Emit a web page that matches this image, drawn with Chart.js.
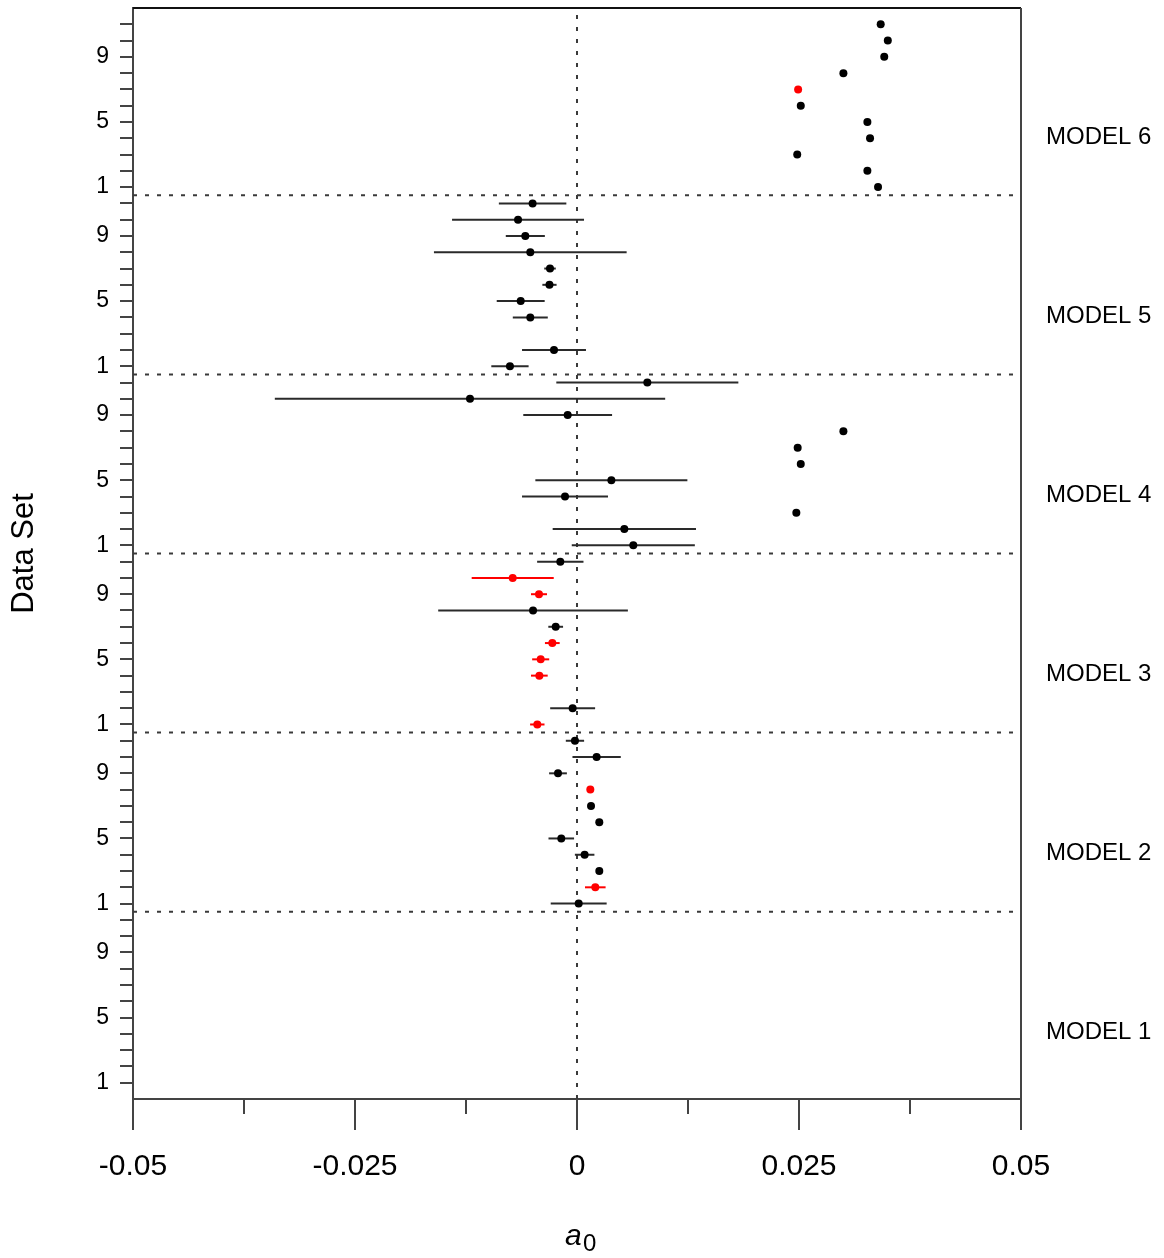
<!DOCTYPE html>
<html>
<head>
<meta charset="utf-8">
<title>a0 by data set and model</title>
<script src="https://cdn.jsdelivr.net/npm/chart.js@4.4.1/dist/chart.umd.min.js"></script>
<style>
  html, body { margin: 0; padding: 0; background: #fff; }
  #wrap { width: 1164px; height: 1258px; overflow: hidden; }
</style>
</head>
<body>
<div id="wrap"><canvas id="chart" width="1164" height="1258"></canvas></div>
<script>
// data sets 1..11 inside each model, models stacked from bottom (1) to top (6)
const dataSetsPerModel = 11;
const modelNames = ["MODEL 1", "MODEL 2", "MODEL 3", "MODEL 4", "MODEL 5", "MODEL 6"];
const xTickLabels = [-0.05, -0.025, 0, 0.025, 0.05];
const xMinorTicks = [-0.0375, -0.0125, 0.0125, 0.0375];
const yLabelled = [1, 5, 9];

// estimates of a0 for data set 1..11 (null = not fitted)
const model1Est = [null, null, null, null, null, null, null, null, null, null, null];
const model2Est = [0.00019, 0.00206, 0.00251, 0.00086, -0.00177, 0.00251, 0.00158, 0.00150, -0.00214, 0.00221, -0.00023];
const model3Est = [-0.00447, -0.00049, null, -0.00424, -0.00409, -0.00278, -0.00240, -0.00495, -0.00428, -0.00724, -0.00188];
const model4Est = [0.00634, 0.00533, 0.0247, -0.00135, 0.00387, 0.0252, 0.02485, 0.0300, -0.00105, -0.01205, 0.00792];
const model5Est = [-0.00755, -0.00259, null, -0.00526, -0.00634, -0.0031, -0.00304, -0.00526, -0.00582, -0.00664, -0.0050];
const model6Est = [0.0339, 0.0327, 0.0248, 0.0330, 0.0327, 0.0252, 0.0249, 0.0300, 0.0346, 0.0350, 0.0342];

// half widths of the error bars (null = no bar)
const model1Err = [null, null, null, null, null, null, null, null, null, null, null];
const model2Err = [0.00315, 0.00116, null, 0.0011, 0.00144, null, null, null, 0.0010, 0.00272, 0.00103];
const model3Err = [0.00081, 0.00253, null, 0.00094, 0.00096, 0.00083, 0.00083, 0.01068, 0.0009, 0.00462, 0.00261];
const model4Err = [0.00693, 0.00807, null, 0.00484, 0.00856, null, null, null, 0.0050, 0.02198, 0.01025];
const model5Err = [0.0021, 0.0036, null, 0.00197, 0.0027, 0.0008, 0.00065, 0.01085, 0.0022, 0.00743, 0.0038];
const model6Err = [null, null, null, null, null, null, null, null, null, null, null];

// data sets drawn in red
const model1Red = [];
const model2Red = [2, 8];
const model3Red = [1, 4, 5, 6, 9, 10];
const model4Red = [];
const model5Red = [];
const model6Red = [7];

const estimates = [model1Est, model2Est, model3Est, model4Est, model5Est, model6Est];
const errors = [model1Err, model2Err, model3Err, model4Err, model5Err, model6Err];
const reds = [model1Red, model2Red, model3Red, model4Red, model5Red, model6Red];

const RED = "#ff0000";
const BLACK = "#000000";
const rowOf = (m, d) => m * dataSetsPerModel + d;
const totalRows = modelNames.length * dataSetsPerModel;

const blackPts = [];
const redPts = [];
const barSets = [];
estimates.forEach((est, m) => {
  est.forEach((v, i) => {
    if (v === null) return;
    const d = i + 1;
    const y = rowOf(m, d);
    const isRed = reds[m].includes(d);
    (isRed ? redPts : blackPts).push({ x: v, y: y });
    const e = errors[m][i];
    if (e !== null) {
      barSets.push({
        data: [{ x: v - e, y: y }, { x: v + e, y: y }],
        showLine: true,
        borderColor: isRed ? RED : "#2a2a2a",
        borderWidth: 2,
        pointRadius: 0,
        order: 2,
      });
    }
  });
});

const dashed = {
  showLine: true,
  borderColor: "#3a3a3a",
  borderWidth: 2,
  borderDash: [4, 8],
  pointRadius: 0,
  order: 3,
};
const separatorSets = modelNames.slice(1).map((_, k) => {
  const y = (k + 1) * dataSetsPerModel + 0.5;
  return Object.assign({}, dashed, { data: [{ x: -0.05, y: y }, { x: 0.05, y: y }] });
});
const zeroLine = Object.assign({}, dashed, { data: [{ x: 0, y: 0 }, { x: 0, y: totalRows + 1 }] });

Chart.defaults.font.family = "'Liberation Sans', Arial, sans-serif";
Chart.defaults.color = "#000";

const framePlugin = {
  id: "frame",
  afterDraw(chart) {
    const { ctx, chartArea: a, scales } = chart;
    const xs = scales.x;
    const ys = scales.y;
    ctx.save();
    // top and right edges of the box
    ctx.strokeStyle = "#111";
    ctx.lineWidth = 2;
    ctx.beginPath();
    ctx.moveTo(a.left, a.top);
    ctx.lineTo(a.right, a.top);
    ctx.stroke();
    ctx.strokeStyle = "#444";
    ctx.beginPath();
    ctx.moveTo(a.right, a.top);
    ctx.lineTo(a.right, a.bottom + 31);
    ctx.stroke();
    // minor ticks on the x axis
    xMinorTicks.forEach((v) => {
      const px = Math.round(xs.getPixelForValue(v));
      ctx.beginPath();
      ctx.moveTo(px, a.bottom);
      ctx.lineTo(px, a.bottom + 15);
      ctx.stroke();
    });
    // model names on the right
    ctx.fillStyle = "#000";
    ctx.font = "24px 'Liberation Sans', Arial, sans-serif";
    ctx.textAlign = "left";
    ctx.textBaseline = "middle";
    modelNames.forEach((name, m) => {
      ctx.fillText(name, a.right + 25, ys.getPixelForValue(rowOf(m, 4)) - 1);
    });
    // axis title a0
    const cx = xs.getPixelForValue(0);
    ctx.textBaseline = "alphabetic";
    ctx.font = "italic 30px 'Liberation Sans', Arial, sans-serif";
    ctx.fillText("a", cx - 12, 1245);
    ctx.font = "24px 'Liberation Sans', Arial, sans-serif";
    ctx.fillText("0", cx + 6, 1251);
    ctx.restore();
  },
};

new Chart(document.getElementById("chart"), {
  type: "scatter",
  data: {
    datasets: [
      { data: redPts, backgroundColor: RED, borderWidth: 0, pointRadius: 4, order: 0 },
      { data: blackPts, backgroundColor: BLACK, borderWidth: 0, pointRadius: 4, order: 1 },
      ...barSets,
      ...separatorSets,
      zeroLine,
    ],
  },
  options: {
    responsive: false,
    animation: false,
    devicePixelRatio: 1,
    layout: { padding: { top: 8, right: 143, left: 0, bottom: 0 } },
    plugins: { legend: { display: false }, tooltip: { enabled: false } },
    scales: {
      x: {
        type: "linear",
        min: -0.05,
        max: 0.05,
        afterBuildTicks: (scale) => {
          scale.ticks = xTickLabels.map((v) => ({ value: v }));
        },
        afterFit: (scale) => {
          scale.height = 159;
          scale.paddingLeft = 0;
          scale.paddingRight = 0;
        },
        ticks: {
          autoSkip: false,
          maxRotation: 0,
          padding: 19,
          font: { size: 30 },
          color: "#000",
          callback: (v) => String(v),
        },
        grid: { drawOnChartArea: false, drawTicks: true, tickLength: 31, color: "#444", lineWidth: 2 },
        border: { display: true, color: "#444", width: 2 },
      },
      y: {
        type: "linear",
        min: 0,
        max: totalRows + 1,
        afterBuildTicks: (scale) => {
          const t = [];
          for (let r = 1; r <= totalRows; r++) t.push({ value: r });
          scale.ticks = t;
        },
        afterFit: (scale) => {
          scale.width = 133;
          scale.paddingTop = 0;
          scale.paddingBottom = 0;
        },
        ticks: {
          autoSkip: false,
          padding: 11,
          font: { size: 23 },
          color: "#000",
          callback: (v) => {
            const d = ((v - 1) % dataSetsPerModel) + 1;
            return yLabelled.includes(d) ? String(d) : "";
          },
        },
        grid: { drawOnChartArea: false, drawTicks: true, tickLength: 13, color: "#444", lineWidth: 2 },
        border: { display: true, color: "#444", width: 2 },
        title: { display: true, text: "Data Set", font: { size: 31 }, color: "#000", padding: { top: 6 } },
      },
    },
  },
  plugins: [framePlugin],
});
</script>
</body>
</html>
